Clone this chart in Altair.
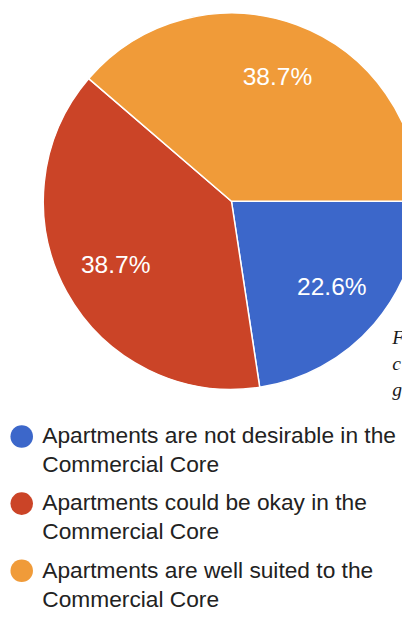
import math
import altair as alt
import pandas as pd

# ---- data ----
categories = [
    "Apartments are not desirable in the Commercial Core",
    "Apartments could be okay in the Commercial Core",
    "Apartments are well suited to the Commercial Core",
]
shares = [22.6, 38.7, 38.7]
pct_labels = ["22.6%", "38.7%", "38.7%"]
legend_line1 = [
    "Apartments are not desirable in the",
    "Apartments could be okay in the",
    "Apartments are well suited to the",
]
legend_line2 = ["Commercial Core", "Commercial Core", "Commercial Core"]
colors = ["#3C67CA", "#CB4427", "#F09B39"]
fragment_letters = ["F", "c", "g"]

df = pd.DataFrame({
    "idx": list(range(len(categories))),
    "category": categories,
    "share": shares,
    "pct": pct_labels,
    "legend": [[a, b] for a, b in zip(legend_line1, legend_line2)],
})
frag = pd.DataFrame({"i": list(range(len(fragment_letters))), "t": fragment_letters})

color_scale = alt.Scale(domain=categories, range=colors)
theta_enc = alt.Theta(
    "share:Q", stack=True,
    scale=alt.Scale(domain=[0, 100], range=[math.pi / 2, math.pi / 2 + 2 * math.pi]),
)
cx, cy = 228, 191

base = alt.Chart(df)

pie = base.mark_arc(outerRadius=192, stroke="white", strokeWidth=1.5).encode(
    theta=theta_enc,
    color=alt.Color("category:N", scale=color_scale, legend=None),
    order=alt.Order("idx:Q"),
    x=alt.value(cx),
    y=alt.value(cy),
)

labels = base.mark_text(
    radius=135, fontSize=25, color="white", font="Liberation Sans",
    align="center", baseline="middle",
).encode(
    theta=theta_enc,
    order=alt.Order("idx:Q"),
    text="pct:N",
    x=alt.value(cx),
    y=alt.value(cy),
)

ly = alt.Y("idx:Q", scale=alt.Scale(domain=[0, 2], range=[431, 568]), axis=None)

legend_dots = base.mark_point(shape="circle", filled=True, size=529, opacity=1).encode(
    x=alt.value(14),
    y=ly,
    color=alt.Color("category:N", scale=color_scale, legend=None),
)

legend_text = base.mark_text(
    align="left", baseline="alphabetic", dy=7, fontSize=23.2,
    font="Liberation Sans", color="#222222", lineHeight=29.5,
).encode(
    x=alt.value(35),
    y=ly,
    text="legend",
)

frag_text = alt.Chart(frag).mark_text(
    align="left", baseline="alphabetic", fontSize=20, font="Liberation Serif",
    fontStyle="italic", color="#1a1a1a",
).encode(
    x=alt.value(392),
    y=alt.Y("i:Q", scale=alt.Scale(domain=[0, 2], range=[337, 390]), axis=None),
    text="t:N",
)

chart = alt.layer(pie, labels, legend_dots, legend_text, frag_text).resolve_scale(
    y="independent"
).properties(
    width=402, height=609, padding=0, autosize=alt.AutoSizeParams(type="none"),
    background="white",
).configure_view(stroke=None)

chart.save("out.html", embed_options={"renderer": "svg", "actions": False})
